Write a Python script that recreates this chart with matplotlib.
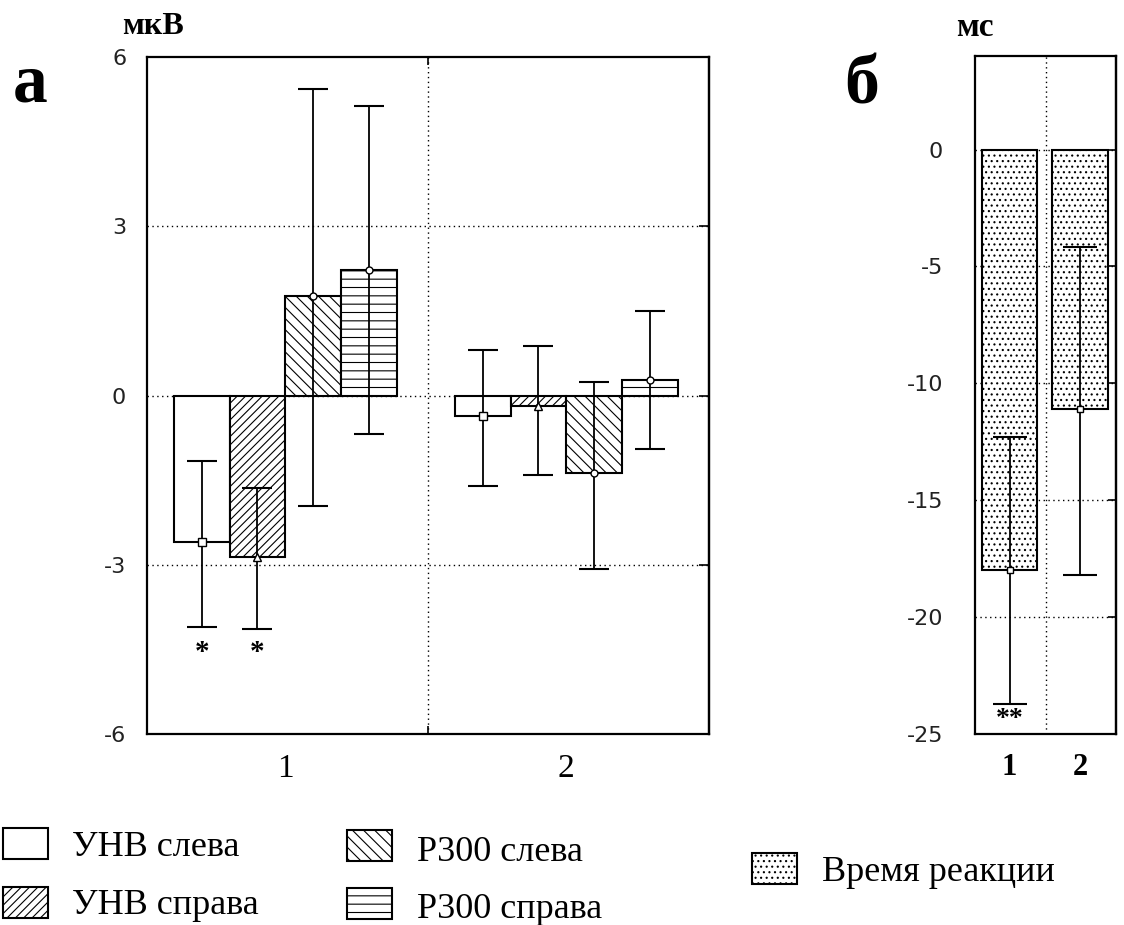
import matplotlib
matplotlib.use('Agg')
import matplotlib.pyplot as plt
from matplotlib.patches import Rectangle

# ---------------- data ----------------
groups = ['1', '2']
series_names = ['УНВ слева', 'УНВ справа', 'Р300 слева', 'Р300 справа']

unv_left = [-2.60, -0.36]
unv_left_low = [-4.10, -1.61]
unv_left_high = [-1.16, 0.81]

unv_right = [-2.87, -0.19]
unv_right_low = [-4.13, -1.41]
unv_right_high = [-1.64, 0.88]

p300_left = [1.77, -1.37]
p300_left_low = [-1.95, -3.08]
p300_left_high = [5.44, 0.24]

p300_right = [2.22, 0.28]
p300_right_low = [-0.68, -0.95]
p300_right_high = [5.14, 1.50]

yticks_a = [6, 3, 0, -3, -6]

rt_groups = ['1', '2']
rt_name = 'Время реакции'
rt_values = [-18.0, -11.1]
rt_low = [-23.7, -18.2]
rt_high = [-12.3, -4.15]
yticks_b = [0, -5, -10, -15, -20, -25]

# ---------------- style ----------------
W, H = 1124, 925
plt.rcParams['hatch.linewidth'] = 0.8
serif = ['Liberation Serif', 'DejaVu Serif']
sans = ['DejaVu Sans']

fig = plt.figure(figsize=(W / 100, H / 100), dpi=100)

def fx(px):
    return px / W

def fy(py):
    return 1 - py / H

dot = (0, (1, 2.5))

# ---------------- panel a ----------------
axa = fig.add_axes([fx(147), fy(734), fx(709) - fx(147), fy(57) - fy(734)])
axa.set_xlim(0, 2)
axa.set_ylim(-6, 6)
for v in [3, 0, -3]:
    axa.axhline(v, color='black', lw=1, ls=dot, zorder=0)
axa.axvline(1, color='black', lw=1, ls=dot, zorder=0)

series = [
    (unv_left, unv_left_low, unv_left_high, '', 's'),
    (unv_right, unv_right_low, unv_right_high, '////', '^'),
    (p300_left, p300_left_low, p300_left_high, '\\\\\\', 'o'),
    (p300_right, p300_right_low, p300_right_high, '--', 'o'),
]
bw = 0.198
centers = [0.492, 1.492]
for i, (vals, lo, hi, hatch, mk) in enumerate(series):
    xs = [c + (i - 1.5) * bw for c in centers]
    axa.bar(xs, vals, width=bw, facecolor='white', edgecolor='black',
            linewidth=1.5, hatch=hatch, zorder=2)
    yerr = [[v - l for v, l in zip(vals, lo)], [h - v for v, h in zip(vals, hi)]]
    axa.errorbar(xs, vals, yerr=yerr, fmt='none', ecolor='black', elinewidth=1.3,
                 capsize=11, capthick=1.5, zorder=3)
    axa.plot(xs, vals, ls='none', marker=mk, ms=6 if mk != 'o' else 5,
             mfc='white', mec='black', mew=1, zorder=4)

# significance marks
for i in [0, 1]:
    xs = centers[0] + (i - 1.5) * bw
    axa.text(xs, -4.55, '*', ha='center', va='center', fontsize=21,
             fontweight='bold', family=serif, zorder=5)

axa.set_yticks(yticks_a)
axa.set_yticklabels([str(t) for t in yticks_a], fontsize=16, family=sans, color='#222222')
axa.set_xticks(centers)
axa.set_xticklabels(groups, fontsize=24, family=serif)
axa.tick_params(axis='x', length=0, pad=14)
axa.tick_params(axis='y', length=0, pad=15)
axa.set_xticks([1], minor=True)
axa.tick_params(axis='x', which='minor', direction='in', length=6, width=1.2, top=True)
for s in axa.spines.values():
    s.set_linewidth(1.6)
axr = axa.secondary_yaxis('right')
axr.set_yticks([3, 0, -3])
axr.tick_params(direction='in', length=7, width=1.2, labelright=False)
axr.spines['right'].set_linewidth(1.6)

# ---------------- panel b ----------------
axb = fig.add_axes([fx(975), fy(734), fx(1116) - fx(975), fy(56) - fy(734)])
axb.set_xlim(0, 2)
axb.set_ylim(-25, 4)
for v in [0, -5, -10, -15, -20]:
    axb.axhline(v, color='black', lw=1, ls=dot, zorder=0)
axb.axvline(1, color='black', lw=1, ls=dot, zorder=0)
bxs = [0.49, 1.49]
axb.bar(bxs, rt_values, width=0.785, facecolor='white', edgecolor='black',
        linewidth=1.5, hatch='...', zorder=2)
yerr_b = [[v - l for v, l in zip(rt_values, rt_low)], [h - v for v, h in zip(rt_values, rt_high)]]
axb.errorbar(bxs, rt_values, yerr=yerr_b, fmt='none', ecolor='black', elinewidth=1.3,
             capsize=12, capthick=1.5, zorder=3)
axb.plot(bxs, rt_values, ls='none', marker='s', ms=5, mfc='white', mec='black',
         mew=1, zorder=4)
axb.text(bxs[0], -24.4, '**', ha='center', va='center', fontsize=20,
         fontweight='bold', family=serif, zorder=5)
axb.set_yticks(yticks_b)
axb.set_yticklabels([str(t) for t in yticks_b], fontsize=16, family=sans, color='#222222')
axb.tick_params(axis='y', length=0, pad=23)
axb.set_xticks(bxs)
axb.set_xticklabels(rt_groups, fontsize=22, family=serif, fontweight='bold')
axb.tick_params(axis='x', length=0, pad=14)
for s in axb.spines.values():
    s.set_linewidth(1.6)
axbr = axb.secondary_yaxis('right')
axbr.set_yticks(yticks_b)
axbr.tick_params(direction='in', length=6, width=1.2, labelright=False)
axbr.spines['right'].set_linewidth(1.6)

# ---------------- labels ----------------
fig.text(fx(153), fy(34), 'мкВ', ha='center', va='baseline', fontsize=23,
         family=serif, fontweight='bold')
fig.text(fx(975), fy(36), 'мс', ha='center', va='baseline', fontsize=24,
         family=serif, fontweight='bold')
fig.text(fx(30), fy(102), 'а', ha='center', va='baseline', fontsize=50,
         family=serif, fontweight='bold')
fig.text(fx(862), fy(103), 'б', ha='center', va='baseline', fontsize=50,
         family=serif, fontweight='bold')

# ---------------- legend ----------------
legend_items = [
    (series_names[0], '', 3, 828, 72, 856),
    (series_names[1], '////', 3, 887, 72, 914),
    (series_names[2], '\\\\\\', 347, 830, 417, 861),
    (series_names[3], '--', 347, 888, 417, 918),
    (rt_name, '...', 752, 853, 822, 881),
]
for name, hatch, bx, by, tx, ty in legend_items:
    rect = Rectangle((fx(bx), fy(by + 31)), fx(45), 31 / H, transform=fig.transFigure,
                     facecolor='white', edgecolor='black', linewidth=1.5, hatch=hatch)
    fig.add_artist(rect)
    fig.text(fx(tx), fy(ty), name, ha='left', va='baseline', fontsize=26, family=serif)

fig.savefig('out.png', dpi=100)
